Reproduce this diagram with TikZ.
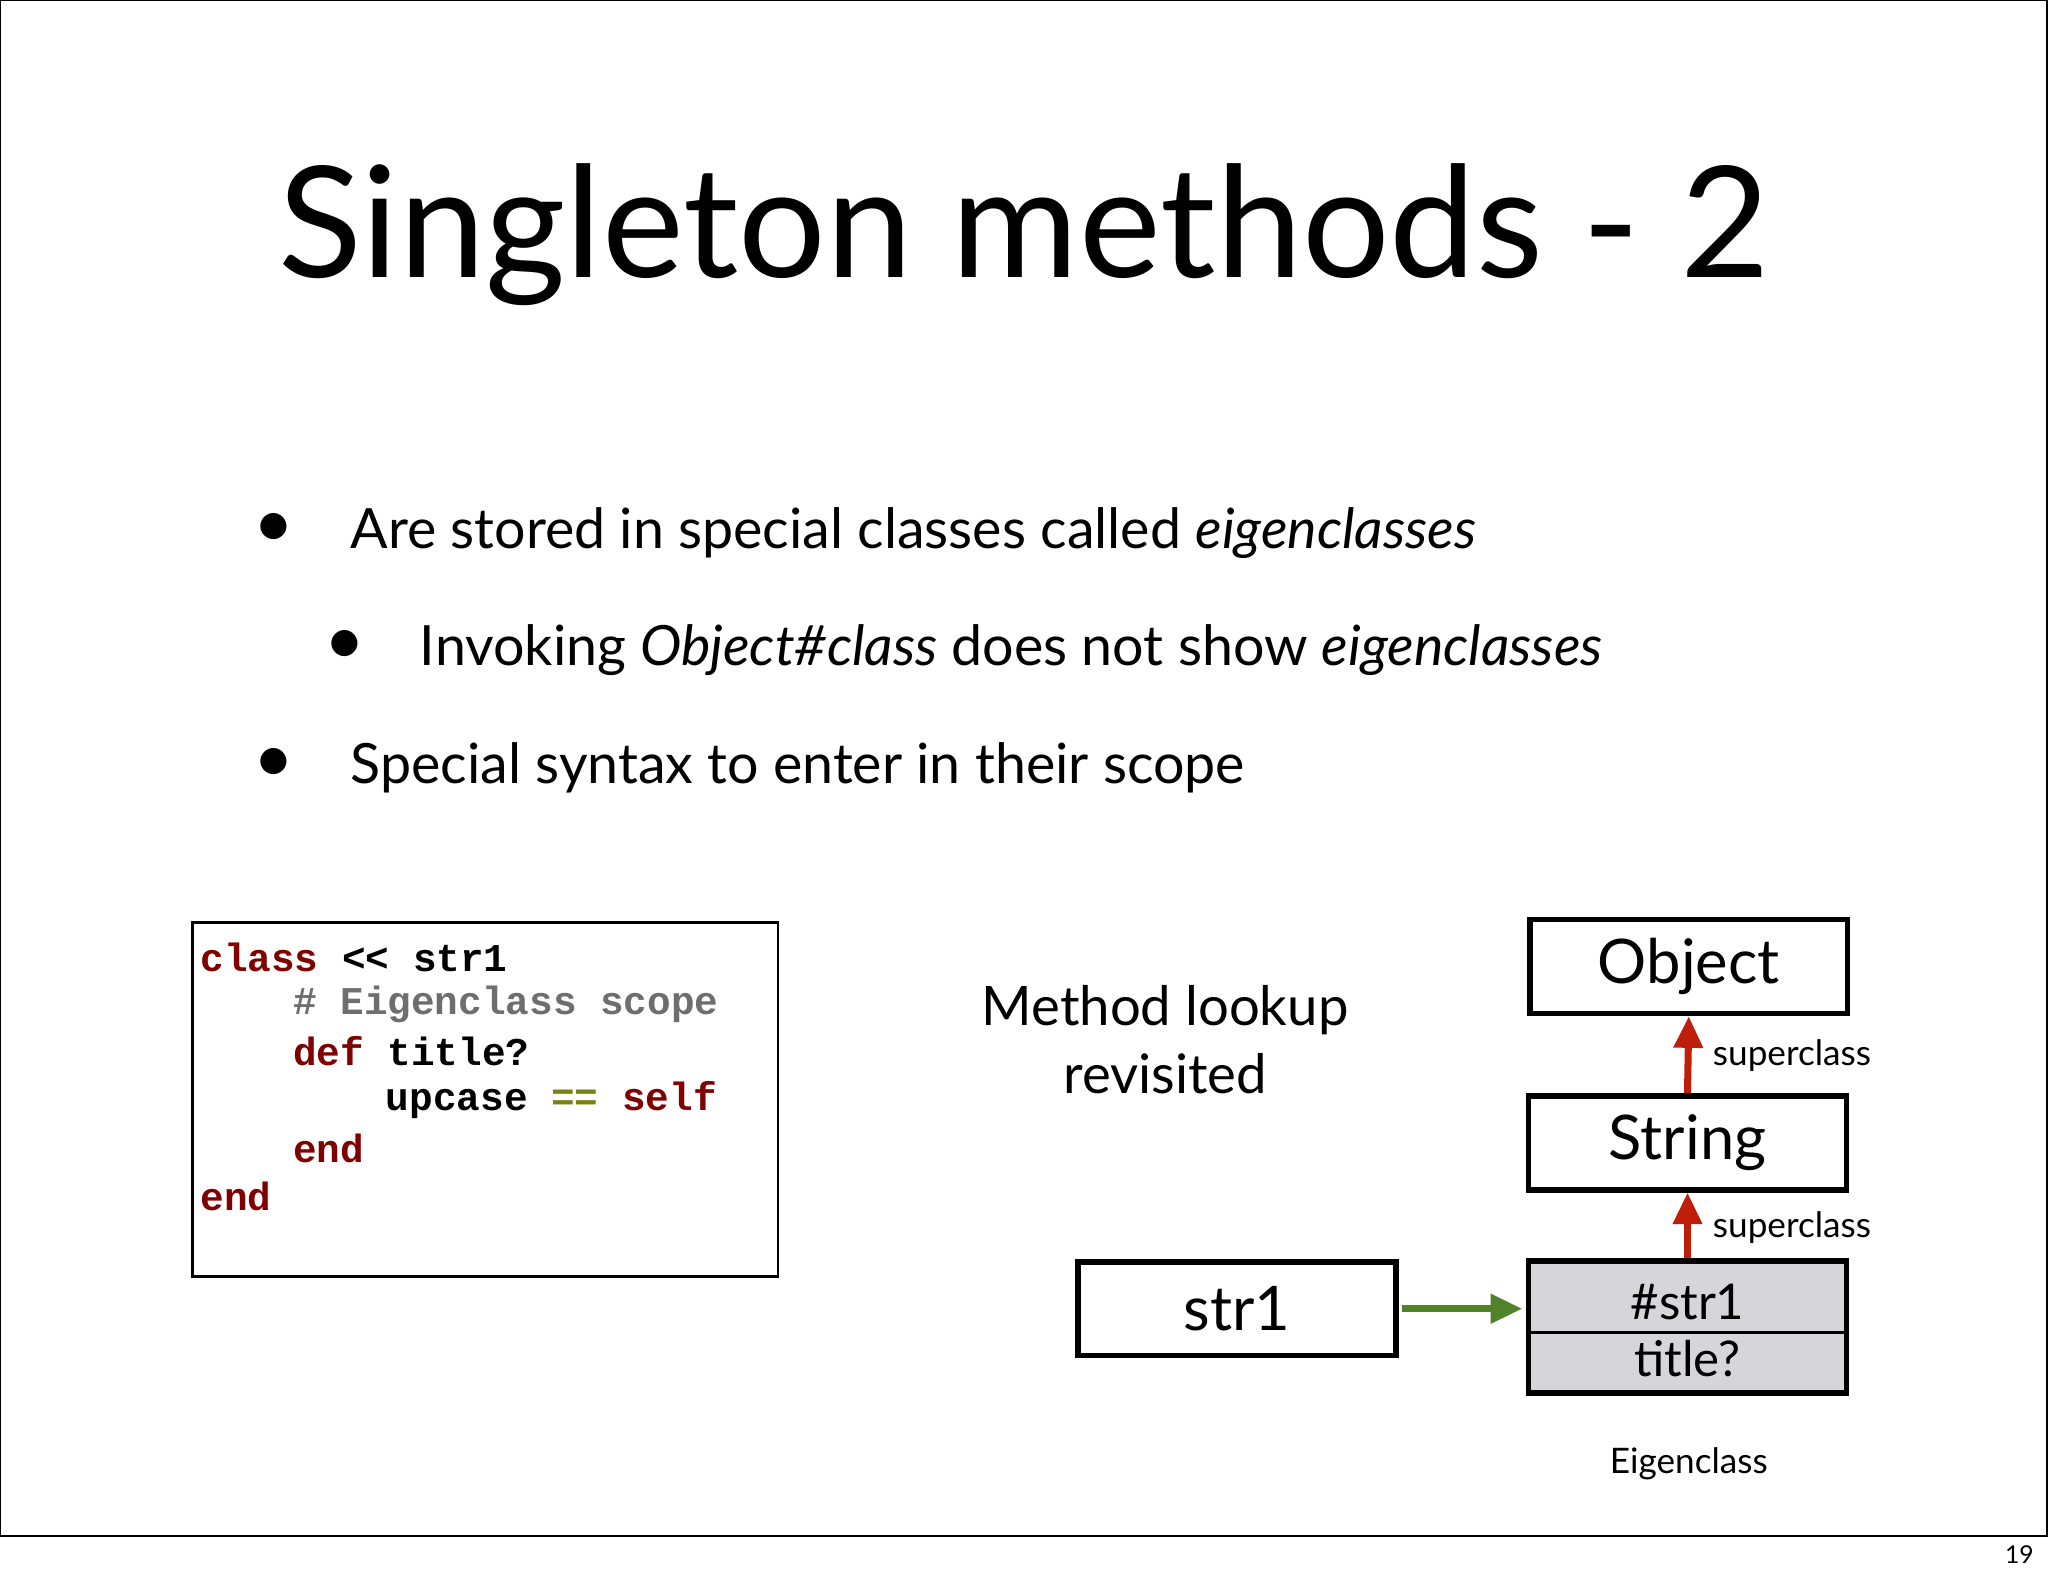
\documentclass[tikz,border=0pt]{standalone}
\usepackage{fontspec}
\setmainfont{Lato}
\setmonofont{Liberation Mono}
\usetikzlibrary{arrows.meta,calc}
\definecolor{kw}{RGB}{128,0,0}
\definecolor{cm}{RGB}{110,110,110}
\definecolor{op}{RGB}{120,130,20}
\definecolor{arrred}{RGB}{190,30,10}
\definecolor{arrgreen}{RGB}{80,130,40}
\definecolor{eig}{RGB}{214,214,218}
\newlength{\pxu}\setlength{\pxu}{0.3705pt}
\tikzset{
  box/.style={draw,line width=1.6pt,minimum width=244\pxu,minimum height=72\pxu,font=\fontsize{17.5}{20}\selectfont},
  code/.style={anchor=west,font=\ttfamily\bfseries\fontsize{11.2}{12}\selectfont},
  bul/.style={anchor=west,font=\fontsize{15.8}{20}\selectfont},
  lab/.style={font=\fontsize{10}{12}\selectfont},
  sup/.style={-{Triangle[length=9pt,width=8pt]},line width=2pt,arrred}
}
\begin{document}
\begin{tikzpicture}[x=0.01306cm,y=-0.01306cm]
\useasboundingbox (0,0) rectangle (1568,1207);
\draw[line width=0.6pt] (0,0) rectangle (1567,1176);
\node[font=\fontsize{7}{8}\selectfont] (pg) at (1546,1190) {19};
\node[font=\fontsize{44}{50}\selectfont] (title) at (784,180) {Singleton methods - 2};
\node[font=\fontsize{20}{20}\selectfont] (b1) at (210,406) {•};
\node[bul] (t1) at (259,408) {Are stored in special classes called \textit{eigenclasses}};
\node[font=\fontsize{20}{20}\selectfont] (b2) at (264,496) {•};
\node[bul] (t2) at (312,498) {Invoking \textit{Object\#class} does not show \textit{eigenclasses}};
\node[font=\fontsize{20}{20}\selectfont] (b3) at (210,586) {•};
\node[bul] (t3) at (259,588) {Special syntax to enter in their scope};
% code box
\node[draw,line width=0.8pt,minimum width=450\pxu,minimum height=272\pxu,anchor=north west] (cb) at (146,705) {};
\node[code] (c1) at (144,733) {\textcolor{kw}{class} << str1};
\node[code] (c2) at (215,769) {\textcolor{cm}{\# Eigenclass scope}};
\node[code] (c3) at (215,805) {\textcolor{kw}{def} title?};
\node[code] (c4) at (286,842) {upcase \textcolor{op}{==} \textcolor{kw}{self}};
\node[code] (c5) at (215,879) {\textcolor{kw}{end}};
\node[code] (c6) at (144,916) {\textcolor{kw}{end}};
\node[align=center,font=\fontsize{15.5}{19.5}\selectfont] (ml) at (892,796) {Method lookup\\revisited};
% class boxes
\node[box] (obj) at (1293,740) {Object};
\node[box] (str) at (1292,875) {String};
\node[box,minimum height=101\pxu,fill=eig] (eg) at (1292,1016) {};
\draw[line width=0.8pt] ($(eg.west)+(0,4)$) -- ($(eg.east)+(0,4)$);
\node[font=\fontsize{14}{16}\selectfont] (eg1) at (1292,997) {\#str1};
\node[font=\fontsize{14}{16}\selectfont] (eg2) at (1292,1040) {title?};
\node[box] (s1) at (947,1002) {str1};
\node[font=\fontsize{10}{12}\selectfont] (egl) at (1293,1121) {Eigenclass};
\draw[sup] (str.north) -- (obj.south);
\draw[sup] (eg.north) -- (str.south);
\node[lab] (sc1) at (1372,808) {superclass};
\node[lab] (sc2) at (1372,940) {superclass};
\draw[-{Triangle[length=9pt,width=8pt]},line width=2pt,arrgreen] ([xshift=1pt]s1.east) -- ([xshift=-1pt]s1.east -| eg.west);
\end{tikzpicture}
\end{document}
